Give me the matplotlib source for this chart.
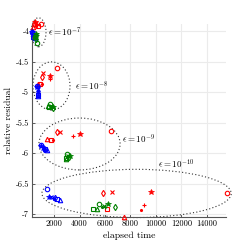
import matplotlib
matplotlib.use("Agg")
import matplotlib.pyplot as plt
from matplotlib.patches import Ellipse

plt.rcParams['font.family'] = ['cmr10', 'DejaVu Serif']
plt.rcParams['mathtext.fontset'] = 'cm'
plt.rcParams['axes.formatter.use_mathtext'] = True

markers = ['o', 'x', '+', '*', 'd', 's', '^', '.']

# each color: 4 tolerance clusters x 8 methods (markers order above)
red_x = [975, 560, 640, 480, 400, 720, 320, 560,
         2250, 1160, 1700, 1680, 1080, 900, 760, 1060,
         6480, 2470, 3470, 4040, 2210, 1760, 1420, 1900,
         15570, 6580, 9095, 9600, 5820, 6140, 7500, 8810]
red_y = [-3.89, -3.87, -3.90, -3.86, -3.88, -3.91, -3.93, -3.92,
         -4.60, -4.68, -4.78, -4.74, -4.76, -4.87, -4.87, -4.86,
         -5.64, -5.66, -5.72, -5.69, -5.66, -5.79, -5.77, -5.78,
         -6.66, -6.64, -6.85, -6.63, -6.66, -6.91, -7.04, -6.93]

blue_x = [300, 350, 400, 280, 450, 380, 480, 420,
          680, 720, 760, 700, 740, 760, 780, 720,
          950, 1100, 1180, 1000, 1250, 1320, 1420, 1200,
          1420, 1800, 1950, 1600, 2100, 2250, 2450, 2000]
blue_y = [-4.02, -4.05, -4.04, -4.01, -4.08, -4.10, -4.11, -4.07,
          -4.90, -4.95, -4.98, -4.91, -5.01, -5.04, -5.07, -4.99,
          -5.87, -5.91, -5.92, -5.88, -5.93, -5.94, -5.95, -5.93,
          -6.59, -6.72, -6.74, -6.72, -6.73, -6.75, -6.77, -6.75]

green_x = [700, 600, 650, 620, 560, 540, 520, 600,
           1650, 1750, 1850, 1900, 1950, 1600, 1500, 1800,
           3050, 3100, 3200, 3250, 3150, 2950, 2900, 3050,
           5560, 5950, 6000, 6270, 6790, 5090, 5350, 5800]
green_y = [-4.19, -4.07, -4.06, -4.05, -4.13, -4.10, -4.09, -4.11,
           -5.20, -5.23, -5.24, -5.24, -5.26, -5.25, -5.22, -5.25,
           -6.01, -6.04, -6.03, -6.04, -6.06, -6.08, -6.10, -6.07,
           -6.84, -6.87, -6.88, -6.84, -6.89, -6.91, -6.91, -6.88]

# tolerance groups: ellipse center / size and label positions
eps_labels = [r'$\epsilon = 10^{-7}$', r'$\epsilon = 10^{-8}$',
              r'$\epsilon = 10^{-9}$', r'$\epsilon = 10^{-10}$']
ell_cx = [780, 1800, 4000, 8480]
ell_cy = [-4.02, -4.90, -5.85, -6.66]
ell_w = [1180, 2910, 6370, 14860]
ell_h = [0.475, 0.79, 0.85, 0.79]
lab_x = [1525, 3650, 7340, 10170]
lab_y = [-4.02, -4.90, -5.77, -6.18]

fig = plt.figure(figsize=(2.5, 2.5), dpi=100)
ax = fig.add_axes([0.128, 0.131, 0.776, 0.773])

series = [(red_x, red_y, '#ff0000'), (blue_x, blue_y, '#0000ff'), (green_x, green_y, '#008000')]
for xs, ys, c in series:
    for i, (xv, yv) in enumerate(zip(xs, ys)):
        m = markers[i % 8]
        if m in ('o', 'd', 's', '^'):
            ax.plot(xv, yv, m, ms=3.2, mfc='none', mec=c, mew=0.8, clip_on=False, zorder=3)
        elif m == '*':
            ax.plot(xv, yv, m, ms=4, color=c, mew=0.5, clip_on=False, zorder=3)
        elif m == '.':
            ax.plot(xv, yv, m, ms=2.5, color=c, clip_on=False, zorder=3)
        else:
            ax.plot(xv, yv, m, ms=3.2, color=c, mew=0.8, clip_on=False, zorder=3)

for cx, cy, w, h in zip(ell_cx, ell_cy, ell_w, ell_h):
    e = Ellipse((cx, cy), w, h, fill=False, ls=(0, (1, 2)), lw=0.8, ec='#333333', clip_on=False)
    ax.add_patch(e)

for t, x, y in zip(eps_labels, lab_x, lab_y):
    ax.text(x, y, t, fontsize=6.5, va='center', ha='left')

ax.set_xlim(270, 15500)
ax.set_ylim(-7.05, -3.885)
ax.set_xticks([2000, 4000, 6000, 8000, 10000, 12000, 14000])
ax.set_yticks([-7, -6.5, -6, -5.5, -5, -4.5, -4])
ax.set_yticklabels(['-7', '-6.5', '-6', '-5.5', '-5', '-4.5', '-4'])
ax.set_xticklabels(['2000', '4000', '6000', '8000', '10000', '12000', '14000'])
ax.tick_params(labelsize=6, direction='in', length=2, width=0.6, colors='#444444', pad=2)
for lbl in ax.get_xticklabels() + ax.get_yticklabels():
    lbl.set_color('black')
ax.grid(True, color='#ebebeb', lw=0.8)
ax.set_axisbelow(True)
for s in ['top', 'right']:
    ax.spines[s].set_visible(False)
for s in ['left', 'bottom']:
    ax.spines[s].set_color('#555555')
    ax.spines[s].set_linewidth(0.8)
ax.set_xlabel('elapsed time', fontsize=7, labelpad=2)
ax.set_ylabel('relative residual', fontsize=7, labelpad=2)

fig.savefig('out.png', dpi=100)
